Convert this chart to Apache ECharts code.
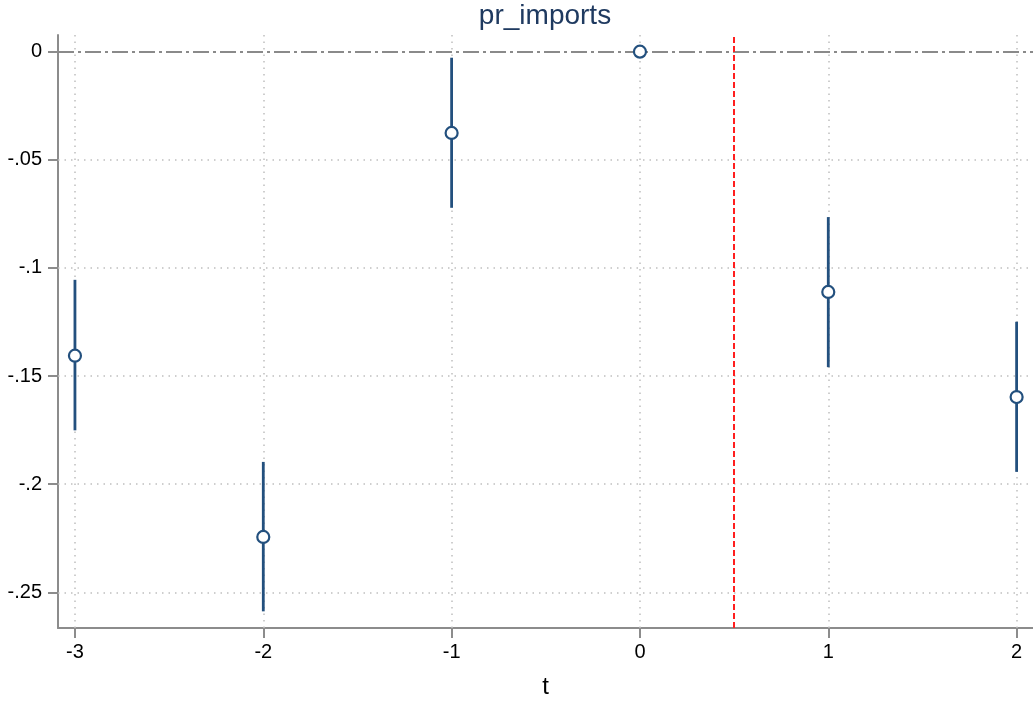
<!DOCTYPE html>
<html>
<head>
<meta charset="utf-8">
<title>pr_imports</title>
<script src="https://cdn.jsdelivr.net/npm/echarts@6/dist/echarts.min.js"></script>
<style>
  html, body { margin: 0; padding: 0; background: #ffffff; }
  #chart { width: 1033px; height: 704px; }
</style>
</head>
<body>
<div id="chart"></div>
<script>
// Event-study coefficients with 95% confidence intervals
const periods   = [-3, -2, -1, 0, 1, 2];
const estimates = [-0.1406, -0.2244, -0.0376, 0, -0.1111, -0.1597];
const ciLower   = [-0.1751, -0.2588, -0.0722, null, -0.1459, -0.1943];
const ciUpper   = [-0.1055, -0.1897, -0.0028, null, -0.0765, -0.1249];

// Axis ticks and their labels
const xTicks = [-3, -2, -1, 0, 1, 2];
const yTicks = [0, -0.05, -0.1, -0.15, -0.2, -0.25];
const yTickLabels = ['0', '-.05', '-.1', '-.15', '-.2', '-.25'];

// Treatment cutoff between periods 0 and 1
const treatmentCut = 0.5;

const navy = '#23507e';
const axisGray = '#8c8c8c';
const font = '"Liberation Sans", Arial, Helvetica, sans-serif';

const estimatePoints = periods.map((p, i) => [p, estimates[i]]);
const intervals = periods
  .map((p, i) => [p, ciLower[i], ciUpper[i]])
  .filter(r => r[1] !== null && r[2] !== null);

const labelFor = v => {
  const i = yTicks.findIndex(t => Math.abs(t - v) < 1e-9);
  return i >= 0 ? yTickLabels[i] : '';
};

const chart = echarts.init(document.getElementById('chart'), null, { renderer: 'canvas' });

chart.setOption({
  animation: false,
  backgroundColor: '#ffffff',
  graphic: [{
    type: 'text',
    x: 545,
    y: 2,
    style: {
      text: 'pr_imports',
      fill: '#1f3a60',
      fontSize: 28,
      fontFamily: font,
      align: 'center',
      verticalAlign: 'top'
    }
  }],
  grid: { left: 58, right: 0, top: 35, bottom: 74, containLabel: false },
  xAxis: {
    type: 'value',
    min: -3.09,
    max: 2.087,
    name: 't',
    nameLocation: 'middle',
    nameGap: 47,
    nameTextStyle: { fontSize: 24, color: '#000', fontFamily: font },
    axisLine: { onZero: false, lineStyle: { color: axisGray, width: 2 } },
    axisTick: { customValues: xTicks, length: 10, lineStyle: { color: axisGray, width: 2 } },
    axisLabel: { customValues: xTicks, margin: 14, fontSize: 20, color: '#000', fontFamily: font,
                 formatter: v => String(v) },
    splitLine: { show: false }
  },
  yAxis: {
    type: 'value',
    min: -0.2665,
    max: 0.0077,
    axisLine: { onZero: false, lineStyle: { color: axisGray, width: 2 } },
    axisTick: { customValues: yTicks, length: 10, lineStyle: { color: axisGray, width: 2 } },
    axisLabel: { customValues: yTicks, margin: 16, fontSize: 20, color: '#000', fontFamily: font,
                 formatter: labelFor },
    splitLine: { show: false }
  },
  series: [
    {
      // dotted grid lines at every tick
      type: 'line',
      data: [],
      z: 1,
      silent: true,
      markLine: {
        z: 1,
        silent: true,
        symbol: 'none',
        label: { show: false },
        lineStyle: { color: '#bfbfbf', width: 1.5, type: [1.5, 5] },
        data: [
          ...yTicks.filter(v => v !== 0).map(v => ({ yAxis: v })),
          ...xTicks.map(v => ({ xAxis: v }))
        ]
      }
    },
    {
      // reference lines: zero effect and treatment cutoff
      type: 'line',
      data: [],
      z: 2,
      silent: true,
      markLine: {
        z: 2,
        silent: true,
        symbol: 'none',
        label: { show: false },
        data: [
          { yAxis: 0, lineStyle: { color: '#8a8a8a', width: 2, type: [16, 4, 3, 4] } },
          { xAxis: treatmentCut, lineStyle: { color: '#ff1f1f', width: 2, type: [6, 3] } }
        ]
      }
    },
    {
      // confidence interval spikes
      type: 'custom',
      z: 3,
      data: intervals,
      encode: { x: 0, y: [1, 2] },
      renderItem: (params, api) => {
        const x = api.value(0);
        const p1 = api.coord([x, api.value(1)]);
        const p2 = api.coord([x, api.value(2)]);
        return {
          type: 'line',
          z2: 10,
          shape: { x1: p1[0], y1: p1[1], x2: p2[0], y2: p2[1] },
          style: { stroke: navy, lineWidth: 2.8, lineDash: null, fill: null }
        };
      }
    },
    {
      // point estimates
      type: 'scatter',
      z: 4,
      data: estimatePoints,
      symbol: 'circle',
      symbolSize: 12,
      itemStyle: { color: '#ffffff', borderColor: navy, borderWidth: 2.2, opacity: 1 }
    }
  ]
});
</script>
</body>
</html>
